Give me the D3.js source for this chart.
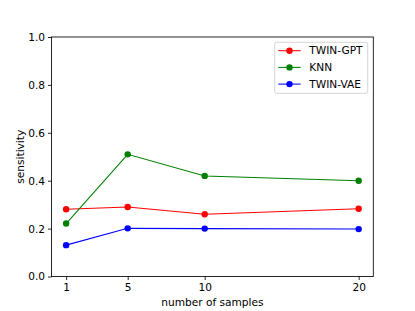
<!DOCTYPE html>
<html lang="en">
<head>
    <meta charset="UTF-8">
    <title>Sensitivity vs number of samples</title>
    <script src="https://d3js.org/d3.v7.min.js"></script>
    <style>
        body {
            margin: 0;
            background: #fff;
            overflow: hidden;
        }
        svg {
            font-family: "DejaVu Sans", sans-serif;
        }
    </style>
</head>
<body>
<script>
    // Data
    const samples = [1, 5, 10, 20];
    const twinGpt = [0.281, 0.290, 0.260, 0.283];
    const knn = [0.221, 0.510, 0.420, 0.400];
    const twinVae = [0.131, 0.201, 0.200, 0.198];
    const yTicks = [0.0, 0.2, 0.4, 0.6, 0.8, 1.0];
    const seriesNames = ["TWIN-GPT", "KNN", "TWIN-VAE"];
    const seriesColors = ["#ff0000", "#008000", "#0000ff"];

    const width = 415, height = 311;
    const margin = {top: 37, right: 41.7, bottom: 34.5, left: 51.5};
    const innerW = width - margin.left - margin.right;
    const innerH = height - margin.top - margin.bottom;
    const fontSize = "10.6px";

    const svg = d3.select("body").append("svg")
        .attr("width", width)
        .attr("height", height);

    const g = svg.append("g")
        .attr("transform", `translate(${margin.left},${margin.top})`);

    // matplotlib-like 5% margins on x
    const x = d3.scaleLinear().domain([0.05, 20.95]).range([0, innerW]);
    const y = d3.scaleLinear().domain([0, 1]).range([innerH, 0]);

    const series = [twinGpt, knn, twinVae].map((vals, i) => ({
        name: seriesNames[i],
        color: seriesColors[i],
        points: samples.map((s, j) => ({x: s, y: vals[j]}))
    }));

    const line = d3.line().x(d => x(d.x)).y(d => y(d.y));

    // Lines and markers
    series.forEach(s => {
        g.append("path")
            .datum(s.points)
            .attr("fill", "none")
            .attr("stroke", s.color)
            .attr("stroke-width", 1.05)
            .attr("d", line);
        g.selectAll(null)
            .data(s.points)
            .enter().append("circle")
            .attr("cx", d => x(d.x))
            .attr("cy", d => y(d.y))
            .attr("r", 3.2)
            .attr("fill", s.color);
    });

    // Axes
    const xAxis = d3.axisBottom(x).tickValues(samples).tickSize(3.5).tickPadding(3.3)
        .tickFormat(d3.format("d"));
    const yAxis = d3.axisLeft(y).tickValues(yTicks).tickSize(3.5).tickPadding(3)
        .tickFormat(d3.format(".1f"));

    const gx = g.append("g").attr("transform", `translate(0,${innerH})`).call(xAxis);
    const gy = g.append("g").call(yAxis);
    [gx, gy].forEach(a => {
        a.select(".domain").remove();
        a.selectAll(".tick line").attr("stroke", "#000").attr("stroke-width", 0.85);
        a.selectAll(".tick text").attr("fill", "#000")
            .style("font-size", fontSize).style("font-family", "DejaVu Sans, sans-serif");
    });

    // Frame (spines)
    g.append("rect")
        .attr("width", innerW)
        .attr("height", innerH)
        .attr("fill", "none")
        .attr("stroke", "#000")
        .attr("stroke-width", 0.85);

    // Axis labels
    svg.append("text")
        .attr("x", margin.left + innerW / 2)
        .attr("y", 306)
        .attr("text-anchor", "middle")
        .style("font-size", fontSize)
        .text("number of samples");

    svg.append("text")
        .attr("transform", `translate(24,${margin.top + innerH / 2}) rotate(-90)`)
        .attr("text-anchor", "middle")
        .style("font-size", fontSize)
        .text("sensitivity");

    // Legend
    const legend = g.append("g").attr("transform", `translate(${innerW - 98.6},5.3)`);
    legend.append("rect")
        .attr("width", 93)
        .attr("height", 51)
        .attr("rx", 2)
        .attr("fill", "#fff")
        .attr("fill-opacity", 0.8)
        .attr("stroke", "#ccc")
        .attr("stroke-width", 0.85);

    const items = legend.selectAll("g.item")
        .data(series)
        .enter().append("g")
        .attr("class", "item")
        .attr("transform", (d, i) => `translate(0,${8.4 + i * 16.7})`);
    items.append("line")
        .attr("x1", 3.6).attr("x2", 26)
        .attr("stroke", d => d.color)
        .attr("stroke-width", 1.05);
    items.append("circle")
        .attr("cx", 14.8).attr("r", 3.2)
        .attr("fill", d => d.color);
    items.append("text")
        .attr("x", 34.6)
        .attr("dy", "0.35em")
        .style("font-size", fontSize)
        .text(d => d.name);
</script>
</body>
</html>
